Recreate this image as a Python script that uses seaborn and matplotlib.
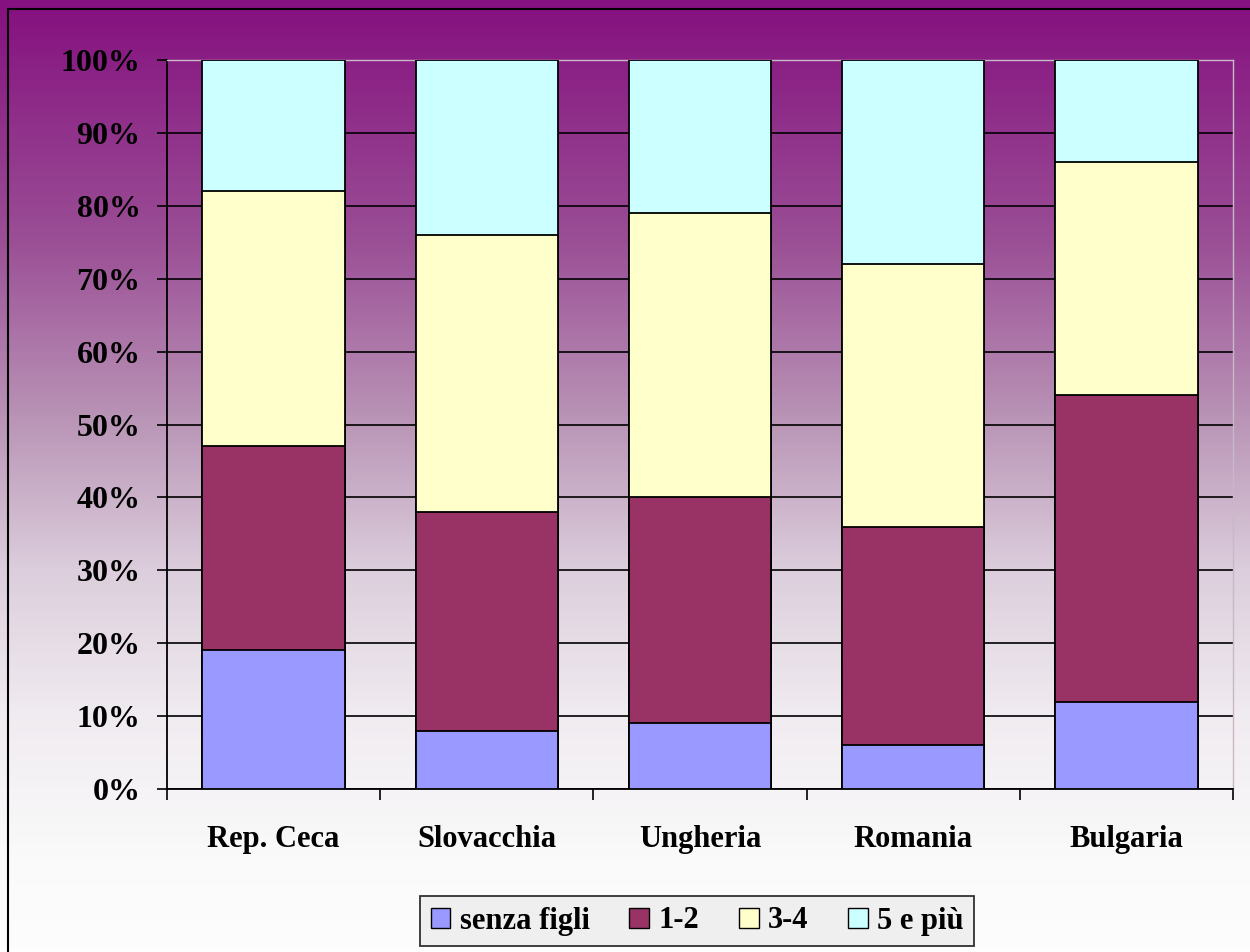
import numpy as np
import pandas as pd
import matplotlib
matplotlib.use('Agg')
import matplotlib.pyplot as plt
from matplotlib.colors import LinearSegmentedColormap
from matplotlib.patches import Patch
import seaborn as sns

# Dati (percentuali)
paesi = ['Rep. Ceca', 'Slovacchia', 'Ungheria', 'Romania', 'Bulgaria']
senza_figli = [19, 8, 9, 6, 12]
figli_1_2 = [28, 30, 31, 30, 42]
figli_3_4 = [35, 38, 39, 36, 32]
figli_5_piu = [18, 24, 21, 28, 14]

serie = ['senza figli', '1-2', '3-4', '5 e più']
colori = ['#9999ff', '#993366', '#ffffcc', '#ccffff']

df = pd.DataFrame({'paese': paesi, 'senza figli': senza_figli, '1-2': figli_1_2,
                   '3-4': figli_3_4, '5 e più': figli_5_piu})
cum = df[serie].cumsum(axis=1)
cum['paese'] = df['paese']

sns.set_style('white')
plt.rcParams['font.family'] = ['Liberation Serif', 'DejaVu Serif']
plt.rcParams['font.weight'] = 'bold'
plt.rcParams['text.color'] = 'black'
plt.rcParams['xtick.color'] = 'black'
plt.rcParams['ytick.color'] = 'black'

fig = plt.figure(figsize=(12.5, 9.52), dpi=100)

# Sfondo sfumato viola -> bianco
bg = fig.add_axes([0, 0, 1, 1], zorder=0)
grad = LinearSegmentedColormap.from_list('sfondo', [
    (0.0, '#85107f'), (0.25, '#9a4e95'), (0.45, '#bb98b8'),
    (0.6, '#dccedc'), (0.75, '#f0ebf0'), (0.9, '#fafafa'), (1.0, '#fdfdfd')])
bg.imshow(np.linspace(0, 1, 256).reshape(-1, 1), aspect='auto', cmap=grad,
          extent=[0, 1, 0, 1])
bg.plot([8 / 1250, 8 / 1250, 1], [0, 1 - 9 / 952, 1 - 9 / 952], color='black', lw=1.5)
bg.set_xlim(0, 1)
bg.set_ylim(0, 1)
bg.axis('off')

ax = fig.add_axes([167 / 1250, 1 - 789 / 952, 1066 / 1250, 729 / 952], zorder=1)
ax.patch.set_alpha(0)

# Barre impilate: si disegnano dal totale verso il basso
for s, c in zip(serie[::-1], colori[::-1]):
    sns.barplot(data=cum, x='paese', y=s, color=c, width=0.667, edgecolor='black',
                linewidth=1.3, saturation=1, ax=ax, zorder=3)

ax.set_xlim(-0.5, 4.5)
ax.set_ylim(0, 100)
ax.set_yticks(range(0, 101, 10))
ax.set_yticklabels([f'{v}%' for v in range(0, 101, 10)], fontsize=23, fontweight='bold')
ax.yaxis.grid(True, color='black', lw=1.2, zorder=0)
ax.set_axisbelow(True)
ax.tick_params(axis='y', direction='out', length=7, width=1.2, color='black', pad=12, left=True)
ax.set_xticks(range(5))
ax.set_xticklabels(paesi, fontsize=22, fontweight='bold')
ax.set_xticks(np.arange(-0.5, 5, 1), minor=True)
ax.tick_params(axis='x', which='major', length=0, pad=26, bottom=True)
ax.tick_params(axis='x', which='minor', direction='out', length=8, width=1.2, color='black', bottom=True)
ax.set_xlabel('')
ax.set_ylabel('')
for lato in ['left', 'bottom']:
    ax.spines[lato].set_color('black')
    ax.spines[lato].set_linewidth(1.3)
for lato in ['top', 'right']:
    ax.spines[lato].set_color('#c8b8c8')
    ax.spines[lato].set_linewidth(1)

# Legenda
maniglie = [Patch(facecolor=c, edgecolor='black', linewidth=1) for c in colori]
leg = fig.legend(maniglie, serie, loc='center', bbox_to_anchor=(697 / 1250, 1 - 921 / 952),
                 ncol=4, frameon=True, fancybox=False, prop={'weight': 'bold', 'size': 22},
                 handlelength=0.65, handleheight=0.65, handletextpad=0.3, columnspacing=1.3,
                 borderpad=0.35)
leg.get_frame().set_edgecolor('black')
leg.get_frame().set_linewidth(1.3)
leg.get_frame().set_facecolor('#ececec')
leg.set_zorder(5)

fig.savefig('out.png', dpi=100)
